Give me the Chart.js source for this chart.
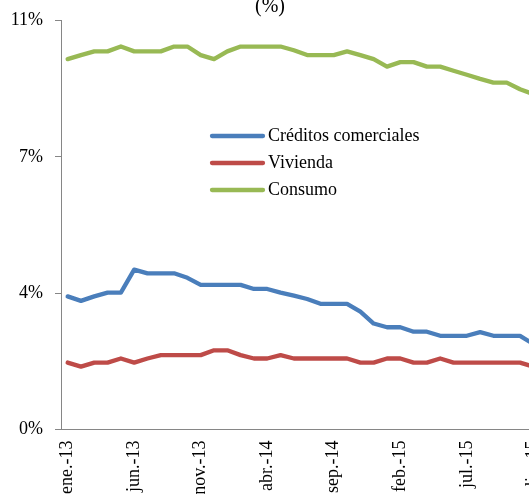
<!DOCTYPE html>
<html>
<head>
<meta charset="utf-8">
<script src="https://cdn.jsdelivr.net/npm/chart.js@4/dist/chart.umd.min.js"></script>
<style>
  html, body { margin: 0; padding: 0; background: #fff; overflow: hidden; width: 529px; height: 494px; }
  #wrap { position: absolute; left: 0; top: -30px; width: 569px; height: 524px; }
</style>
</head>
<body>
<div id="wrap"><canvas id="c" width="569" height="524"></canvas></div>
<script>
const categories = [
  'ene.-13','feb.-13','mar.-13','abr.-13','may.-13','jun.-13','jul.-13','ago.-13','sep.-13','oct.-13','nov.-13','dic.-13',
  'ene.-14','feb.-14','mar.-14','abr.-14','may.-14','jun.-14','jul.-14','ago.-14','sep.-14','oct.-14','nov.-14','dic.-14',
  'ene.-15','feb.-15','mar.-15','abr.-15','may.-15','jun.-15','jul.-15','ago.-15','sep.-15','oct.-15','nov.-15','dic.-15'
];
const comerciales = [3.58,3.46,3.58,3.68,3.68,4.30,4.20,4.20,4.20,4.08,3.89,3.89,3.89,3.89,3.78,3.78,3.68,3.60,3.51,3.38,3.38,3.38,3.17,2.85,2.75,2.75,2.63,2.63,2.52,2.52,2.52,2.62,2.52,2.52,2.52,2.30];
const vivienda    = [1.80,1.69,1.80,1.80,1.91,1.80,1.91,2.00,2.00,2.00,2.00,2.13,2.13,2.00,1.91,1.91,2.00,1.91,1.91,1.91,1.91,1.91,1.80,1.80,1.91,1.91,1.80,1.80,1.91,1.80,1.80,1.80,1.80,1.80,1.80,1.69];
const consumo     = [9.96,10.07,10.17,10.17,10.30,10.17,10.17,10.17,10.30,10.30,10.07,9.96,10.17,10.30,10.30,10.30,10.30,10.20,10.07,10.07,10.07,10.17,10.07,9.96,9.76,9.88,9.88,9.76,9.76,9.65,9.54,9.43,9.33,9.33,9.15,9.02];
const seriesNames = ['Créditos comerciales','Vivienda','Consumo'];
const seriesColors = ['#4A7EBB','#BE4B48','#98B954'];
const yTickValues = [0, 11/3, 22/3, 11];
const yTickLabels = ['0%','4%','7%','11%'];
const titleText = '(%)';

const FONT = '"Liberation Serif", "Times New Roman", serif';

const insideLegend = {
  id: 'insideLegend',
  afterDatasetsDraw(chart) {
    const { ctx, chartArea } = chart;
    const x0 = chartArea.left + 149, y0 = chartArea.top + 115.5, rowH = 27, lineLen = 55;
    ctx.save();
    ctx.font = '18px ' + FONT;
    ctx.textBaseline = 'middle';
    ctx.textAlign = 'left';
    ctx.fillStyle = '#000';
    ctx.lineCap = 'round';
    ctx.lineWidth = 4.3;
    chart.data.datasets.forEach((ds, i) => {
      const y = y0 + i * rowH;
      ctx.strokeStyle = ds.borderColor;
      ctx.beginPath();
      ctx.moveTo(x0 + 2, y);
      ctx.lineTo(x0 + lineLen - 2, y);
      ctx.stroke();
      ctx.fillText(ds.label, x0 + lineLen + 3, y);
    });
    ctx.restore();
  }
};

const values = [comerciales, vivienda, consumo];

new Chart(document.getElementById('c'), {
  type: 'line',
  data: {
    labels: categories,
    datasets: values.map((d, i) => ({
      label: seriesNames[i],
      data: d,
      borderColor: seriesColors[i],
      backgroundColor: seriesColors[i]
    }))
  },
  options: {
    responsive: false,
    animation: false,
    layout: { padding: { left: 0, right: 29, top: 0, bottom: 0 } },
    elements: {
      point: { radius: 0, hoverRadius: 0 },
      line: { borderWidth: 4.3, tension: 0, borderCapStyle: 'round', borderJoinStyle: 'round', fill: false }
    },
    plugins: {
      legend: { display: false },
      tooltip: { enabled: false },
      title: {
        display: true, text: titleText, color: '#000',
        font: { family: FONT, size: 20, weight: 'normal' },
        padding: { top: 25, bottom: 1.5 }
      }
    },
    scales: {
      x: {
        offset: true,
        grid: { display: false, drawTicks: false },
        border: { display: true, color: '#868686', width: 1 },
        ticks: {
          autoSkip: false, maxRotation: 90, minRotation: 90, padding: 11, color: '#000',
          font: { family: FONT, size: 18 },
          callback: (v, i) => (i % 5 === 0 ? categories[i] : '')
        },
        afterFit: s => { s.height = 64.5; }
      },
      y: {
        min: 0, max: 11,
        afterBuildTicks: s => { s.ticks = yTickValues.map(v => ({ value: v })); },
        grid: { display: true, drawOnChartArea: false, drawTicks: true, tickLength: 6, color: '#868686' },
        border: { display: true, color: '#868686', width: 1 },
        ticks: {
          padding: 12, color: '#000',
          font: { family: FONT, size: 18 },
          callback: (v, i) => yTickLabels[i]
        },
        afterFit: s => { s.width = 61; }
      }
    }
  },
  plugins: [insideLegend]
});
</script>
</body>
</html>
